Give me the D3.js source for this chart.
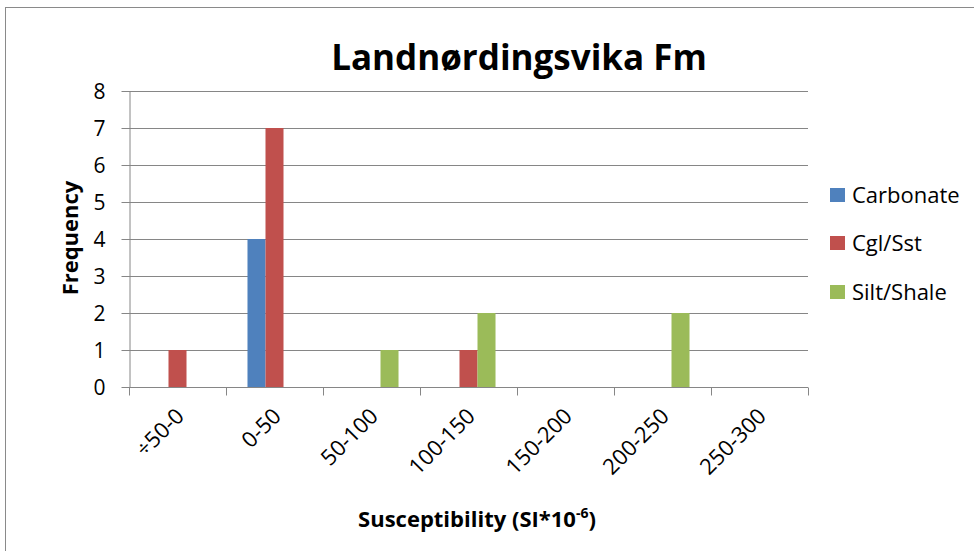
<!DOCTYPE html>
<html lang="en">
<head>
    <meta charset="UTF-8">
    <title>Landnørdingsvika Fm</title>
    <style>
        body { margin: 0; background: #fff; }
        svg { display: block; font-family: "Open Sans", "Noto Sans", sans-serif; }
        .grid line { stroke: #868686; stroke-width: 1px; }
        .axis path, .axis line { stroke: #868686; stroke-width: 1px; }
        .axis text { fill: #000; font-size: 21px; font-family: "Open Sans", "Noto Sans", sans-serif; }
        .axis text.xlbl { font-size: 22px; }
        .legend text { font-size: 22px; fill: #000; }
    </style>
</head>
<body>
    <svg id="chart" width="974" height="551"></svg>

    <script src="https://d3js.org/d3.v7.min.js"></script>
    <script>
        // --- Data ---
        const categories = ["÷50-0", "0-50", "50-100", "100-150", "150-200", "200-250", "250-300"];
        const seriesNames = ["Carbonate", "Cgl/Sst", "Silt/Shale"];
        const carbonate = [0, 4, 0, 0, 0, 0, 0];
        const cglSst = [1, 7, 0, 1, 0, 0, 0];
        const siltShale = [0, 0, 1, 2, 0, 2, 0];
        const yTicks = [0, 1, 2, 3, 4, 5, 6, 7, 8];

        const seriesValues = [carbonate, cglSst, siltShale];
        const colors = ["#4F81BD", "#C0504D", "#9BBB59"];

        const svg = d3.select("#chart");
        const plot = { left: 129, right: 808, top: 91, bottom: 387 };

        // outer chart border
        svg.append("rect")
            .attr("x", 5.5).attr("y", 7.5)
            .attr("width", 1000).attr("height", 600)
            .attr("fill", "none")
            .attr("stroke", "#8a8a8a");

        // title
        svg.append("text")
            .attr("x", 519).attr("y", 70)
            .attr("text-anchor", "middle")
            .style("font-size", "35px")
            .style("font-weight", "bold")
            .text("Landnørdingsvika Fm");

        const x0 = d3.scaleBand()
            .domain(categories)
            .range([plot.left, plot.right])
            .paddingInner(0.443)
            .paddingOuter(0.2215);

        const x1 = d3.scaleBand()
            .domain(seriesNames)
            .range([0, x0.bandwidth()]);

        const y = d3.scaleLinear()
            .domain([0, 8])
            .range([plot.bottom, plot.top]);

        // gridlines
        svg.append("g")
            .attr("class", "grid")
            .selectAll("line")
            .data(yTicks.filter(d => d > 0))
            .enter().append("line")
            .attr("x1", plot.left).attr("x2", plot.right)
            .attr("y1", d => Math.round(y(d)) + 0.5)
            .attr("y2", d => Math.round(y(d)) + 0.5);

        // bars
        const groups = svg.append("g")
            .selectAll("g")
            .data(categories)
            .enter().append("g")
            .attr("transform", d => `translate(${x0(d)},0)`);

        groups.selectAll("rect")
            .data((c, ci) => seriesValues.map((vals, si) => ({ s: seriesNames[si], v: vals[ci], color: colors[si] })))
            .enter().append("rect")
            .attr("x", d => x1(d.s))
            .attr("width", x1.bandwidth())
            .attr("y", d => y(d.v))
            .attr("height", d => y(0) - y(d.v))
            .attr("fill", d => d.color);

        // y axis
        const yAxis = svg.append("g")
            .attr("class", "axis")
            .attr("transform", `translate(${plot.left + 0.5},0)`)
            .call(d3.axisLeft(y).tickValues(yTicks).tickSize(8).tickPadding(16).tickSizeOuter(0));
        yAxis.selectAll("text").attr("dy", "0.35em");

        // x axis with ticks at band boundaries
        const xAxis = svg.append("g")
            .attr("class", "axis")
            .attr("transform", `translate(0,${plot.bottom + 0.5})`);
        xAxis.append("line")
            .attr("x1", plot.left).attr("x2", plot.right)
            .attr("y1", 0).attr("y2", 0);
        const step = x0.step();
        xAxis.selectAll(".tick")
            .data(d3.range(categories.length + 1))
            .enter().append("line")
            .attr("x1", i => Math.round(plot.left + i * step) + 0.5)
            .attr("x2", i => Math.round(plot.left + i * step) + 0.5)
            .attr("y1", 0).attr("y2", 8);
        xAxis.selectAll(".xlbl")
            .data(categories)
            .enter().append("text")
            .attr("class", "xlbl")
            .attr("text-anchor", "end")
            .attr("transform", d => `translate(${x0(d) + x0.bandwidth() / 2 + 8},${30}) rotate(-45)`)
            .text(d => d);

        // axis titles
        svg.append("text")
            .attr("transform", "translate(78,238) rotate(-90)")
            .attr("text-anchor", "middle")
            .style("font-size", "22px")
            .style("font-weight", "bold")
            .text("Frequency");

        const xt = svg.append("text")
            .attr("x", 477).attr("y", 527)
            .attr("text-anchor", "middle")
            .style("font-size", "22px")
            .style("font-weight", "bold");
        xt.append("tspan").text("Susceptibility (SI*10");
        xt.append("tspan").attr("dy", -9).style("font-size", "14px").text("-6");
        xt.append("tspan").attr("dy", 9).text(")");

        // legend
        const legend = svg.append("g").attr("class", "legend");
        const legendY = [195, 243, 292];
        seriesNames.forEach((name, i) => {
            legend.append("rect")
                .attr("x", 830).attr("y", legendY[i] - 7)
                .attr("width", 15).attr("height", 14)
                .attr("fill", colors[i]);
            legend.append("text")
                .attr("x", 852).attr("y", legendY[i])
                .attr("dy", "0.35em")
                .text(name);
        });
    </script>
</body>
</html>
